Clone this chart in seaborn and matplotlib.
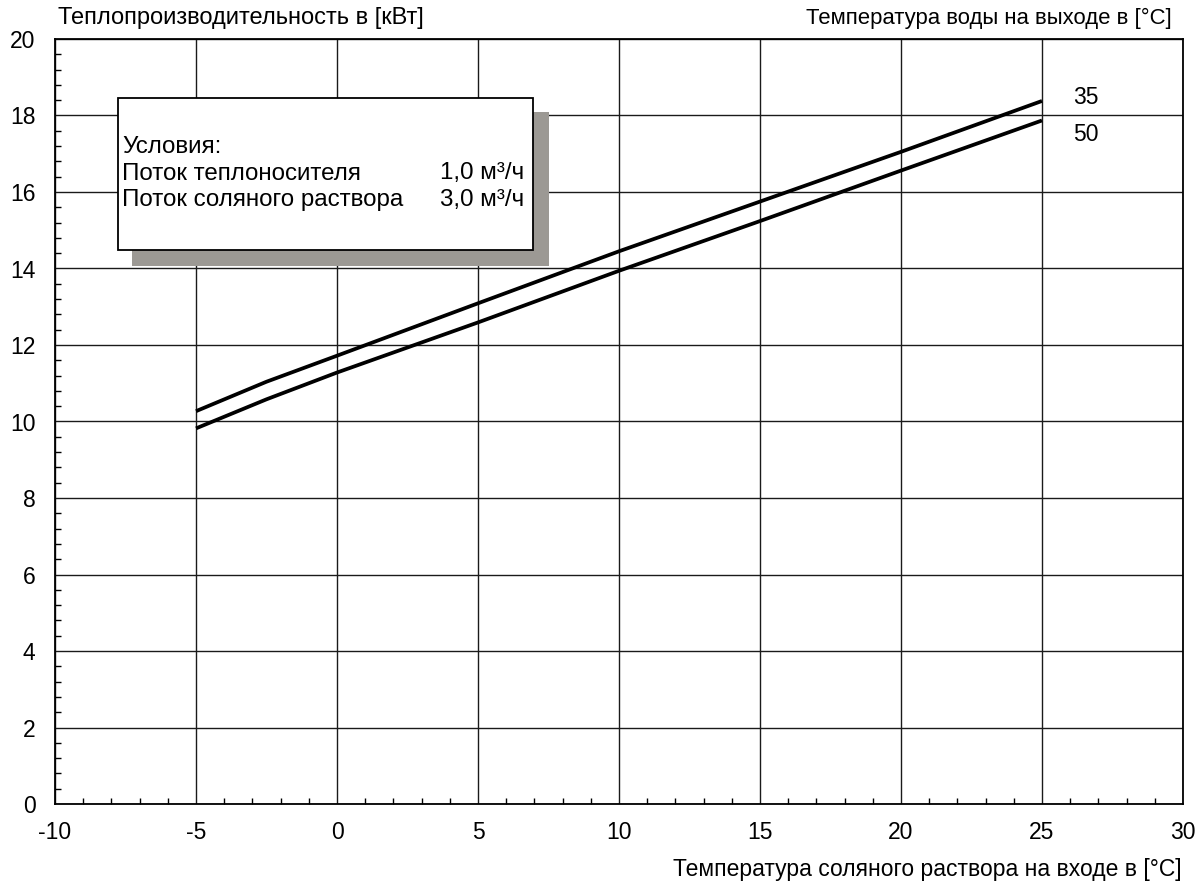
import numpy as np
import pandas as pd
import matplotlib
matplotlib.use("Agg")
import matplotlib.pyplot as plt
from matplotlib.patches import Rectangle
from matplotlib.ticker import MultipleLocator
import seaborn as sns

# Data
brine_temp = [-5, -2.5, 0, 5, 10, 15, 20, 25]
heat_35 = [10.27, 11.04, 11.72, 13.09, 14.45, 15.75, 17.05, 18.38]
heat_50 = [9.82, 10.58, 11.28, 12.59, 13.94, 15.24, 16.56, 17.87]
series_names = ["35", "50"]

x_ticks = [-10, -5, 0, 5, 10, 15, 20, 25, 30]
y_ticks = [0, 2, 4, 6, 8, 10, 12, 14, 16, 18, 20]

box_lines = ["Условия:", "Поток теплоносителя", "Поток соляного раствора"]
box_values = ["", "1,0 м³/ч", "3,0 м³/ч"]

df = pd.DataFrame({
    "x": brine_temp * 2,
    "y": heat_35 + heat_50,
    "s": [series_names[0]] * len(brine_temp) + [series_names[1]] * len(brine_temp),
})

sns.set_theme(style="white")
plt.rcParams["font.family"] = ["Liberation Sans", "DejaVu Sans"]
plt.rcParams["text.color"] = "black"

FS = 16.5
W, H = 1204, 888
fig = plt.figure(figsize=(W / 100, H / 100), dpi=100)
ax = fig.add_axes([55 / W, (H - 804) / H, (1183 - 55) / W, (804 - 39) / H])

sns.lineplot(data=df, x="x", y="y", units="s", estimator=None, color="black",
             linewidth=2.7, ax=ax, legend=False, solid_capstyle="butt")

ax.set_xlim(-10, 30)
ax.set_ylim(0, 20)
ax.set_xticks(x_ticks)
ax.set_yticks(y_ticks)
ax.set_xticklabels([str(t) for t in x_ticks])
ax.set_yticklabels([str(t) for t in y_ticks])
ax.xaxis.set_minor_locator(MultipleLocator(1))
ax.yaxis.set_minor_locator(MultipleLocator(0.4))
ax.tick_params(axis="both", which="both", direction="in", colors="black",
               labelcolor="black", labelsize=FS, top=False, right=False)
ax.tick_params(axis="both", which="major", length=4.5, width=1)
ax.tick_params(axis="both", which="minor", length=4.5, width=1, bottom=True, left=True)
ax.tick_params(axis="x", which="major", pad=12)
ax.tick_params(axis="y", which="major", pad=14)
ax.grid(True, which="major", color="#1a1a1a", linewidth=1.0)
for sp in ax.spines.values():
    sp.set_color("black")
    sp.set_linewidth(1.3)
ax.set_xlabel("")
ax.set_ylabel("")

# Curve labels
ax.text(26.1, 18.47, series_names[0], fontsize=FS, va="center", ha="left", color="black")
ax.text(26.1, 17.5, series_names[1], fontsize=FS, va="center", ha="left", color="black")

# Axis titles
fig.text(58 / W, 1 - 18 / H, "Теплопроизводительность в [кВт]", fontsize=17,
         ha="left", va="center", color="black")
fig.text(1172 / W, 1 - 18 / H, "Температура воды на выходе в [°C]", fontsize=15.9,
         ha="right", va="center", color="black")
fig.text(1182 / W, 1 - 869 / H, "Температура соляного раствора на входе в [°C]",
         fontsize=FS, ha="right", va="center", color="black")

# Conditions box with shadow
def px_rect(x0, y0, x1, y1, **kw):
    return Rectangle((x0 / W, 1 - y1 / H), (x1 - x0) / W, (y1 - y0) / H,
                     transform=fig.transFigure, **kw)

fig.patches.append(px_rect(132, 112, 549, 266, facecolor="#9c9994", edgecolor="none", zorder=5))
fig.patches.append(px_rect(118, 98, 533, 250, facecolor="white", edgecolor="black",
                           linewidth=1.3, zorder=6))
for i, (lbl, val) in enumerate(zip(box_lines, box_values)):
    yy = 1 - (147 + 26.5 * i) / H
    fig.text(122 / W, yy, lbl, fontsize=17.4, ha="left", va="center", zorder=7, color="black")
    if val:
        fig.text(524 / W, yy, val, fontsize=17.4, ha="right", va="center", zorder=7, color="black")

fig.savefig("out.png", dpi=100, facecolor="white")
